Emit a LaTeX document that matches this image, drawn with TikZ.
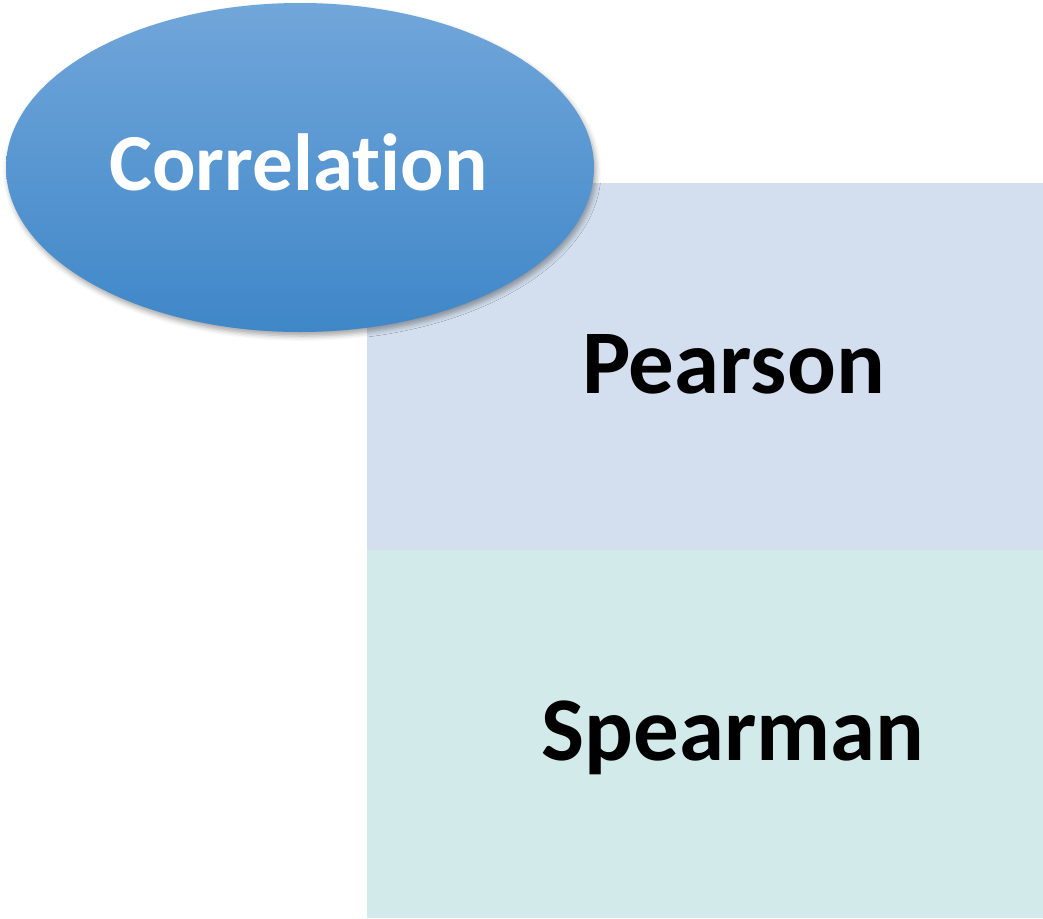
\documentclass[tikz,border=0pt]{standalone}
\usepackage{fontspec}
\setmainfont[Ligatures=NoCommon]{Carlito}
\usetikzlibrary{shapes.geometric,shadows.blur}
\definecolor{pearsonbg}{HTML}{D3DFEE}
\definecolor{spearmanbg}{HTML}{D3EAEB}
\definecolor{ellTop}{HTML}{71A6DA}
\definecolor{ellBot}{HTML}{3F87C8}
\tikzset{
  panel/.style={draw=none, inner sep=0pt, outer sep=0pt, rectangle},
  bigtext/.style={inner sep=0pt, anchor=base, font=\bfseries\fontsize{91}{110}\selectfont},
  ovaltext/.style={inner sep=0pt, anchor=base, text=white, font=\bfseries\fontsize{81}{98}\selectfont},
}
\begin{document}
\begin{tikzpicture}[x=1pt,y=-1pt]
\useasboundingbox (0,0) rectangle (1043,918);
\node[panel, fill=pearsonbg, minimum width=676pt, minimum height=367pt] (pbox) at (705,366.5) {};
\node[panel, fill=spearmanbg, minimum width=676pt, minimum height=368pt] (sbox) at (705,734) {};
\node[bigtext] (ptext) at (733.5,393) {Pearson};
\node[bigtext] (stext) at (733,760) {Spearman};
\node[ellipse, draw=none, inner sep=0pt, minimum width=588pt, minimum height=329pt,
      top color=ellTop, bottom color=ellBot,
      blur shadow={shadow xshift=2pt, shadow yshift=-4pt, shadow blur radius=5pt, shadow opacity=35}] (corr) at (300,167.5) {};
\node[ovaltext] (ctext) at (298.5,190) {Correlation};
\end{tikzpicture}
\end{document}
